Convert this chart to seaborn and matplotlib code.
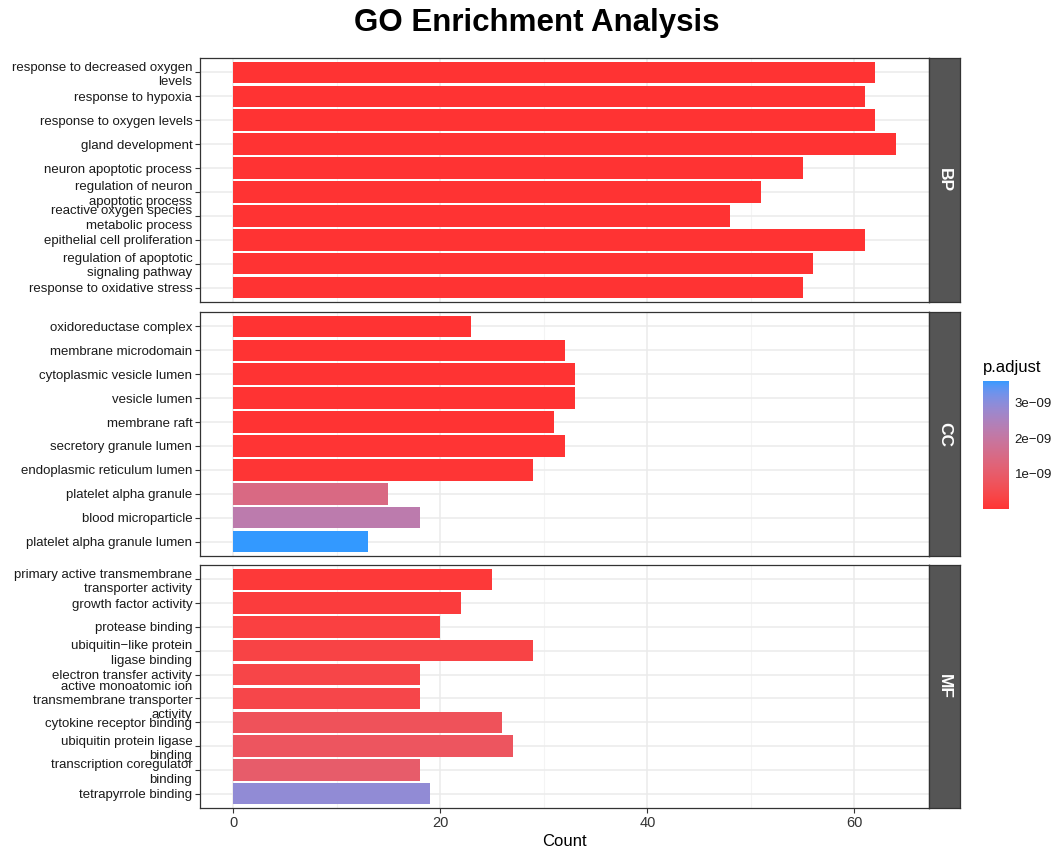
import numpy as np
import pandas as pd
import matplotlib
matplotlib.use("Agg")
import matplotlib.pyplot as plt
import seaborn as sns
from matplotlib.colors import ListedColormap, Normalize, to_rgb
from matplotlib.cm import ScalarMappable

# ---- enrichment results -------------------------------------------------
bp_terms = [
    "response to decreased oxygen\nlevels",
    "response to hypoxia",
    "response to oxygen levels",
    "gland development",
    "neuron apoptotic process",
    "regulation of neuron\napoptotic process",
    "reactive oxygen species\nmetabolic process",
    "epithelial cell proliferation",
    "regulation of apoptotic\nsignaling pathway",
    "response to oxidative stress",
]
bp_counts = [62, 61, 62, 64, 55, 51, 48, 61, 56, 55]
bp_padj = [2.1e-19, 2.1e-19, 4.8e-19, 6.5e-18, 1.2e-16, 3.4e-16, 5.1e-16, 6.0e-16, 9.8e-16, 1.4e-15]

cc_terms = [
    "oxidoreductase complex",
    "membrane microdomain",
    "cytoplasmic vesicle lumen",
    "vesicle lumen",
    "membrane raft",
    "secretory granule lumen",
    "endoplasmic reticulum lumen",
    "platelet alpha granule",
    "blood microparticle",
    "platelet alpha granule lumen",
]
cc_counts = [23, 32, 33, 33, 31, 32, 29, 15, 18, 13]
cc_padj = [1.2e-12, 4.5e-12, 6.1e-12, 6.9e-12, 1.1e-11, 1.8e-11, 3.6e-11, 1.45e-9, 2.2e-9, 3.62e-9]

mf_terms = [
    "primary active transmembrane\ntransporter activity",
    "growth factor activity",
    "protease binding",
    "ubiquitin\u2212like protein\nligase binding",
    "electron transfer activity",
    "active monoatomic ion\ntransmembrane transporter\nactivity",
    "cytokine receptor binding",
    "ubiquitin protein ligase\nbinding",
    "transcription coregulator\nbinding",
    "tetrapyrrole binding",
]
mf_counts = [25, 22, 20, 29, 18, 18, 26, 27, 18, 19]
mf_padj = [1.0e-10, 1.8e-10, 2.5e-10, 3.2e-10, 3.8e-10, 4.0e-10, 7.0e-10, 8.0e-10, 1.0e-9, 2.9e-9]

ontologies = ["BP", "CC", "MF"]
cbar_ticks = [1e-9, 2e-9, 3e-9]
cbar_labels = ["1e\u221209", "2e\u221209", "3e\u221209"]

df = pd.concat([
    pd.DataFrame({"ONTOLOGY": "BP", "Description": bp_terms, "Count": bp_counts, "p.adjust": bp_padj}),
    pd.DataFrame({"ONTOLOGY": "CC", "Description": cc_terms, "Count": cc_counts, "p.adjust": cc_padj}),
    pd.DataFrame({"ONTOLOGY": "MF", "Description": mf_terms, "Count": mf_counts, "p.adjust": mf_padj}),
], ignore_index=True)


# ---- red -> blue gradient interpolated in CIELAB ------------------------
def _srgb_to_lab(rgb):
    c = np.asarray(rgb, float)
    c = np.where(c <= 0.04045, c / 12.92, ((c + 0.055) / 1.055) ** 2.4)
    m = np.array([[0.4124, 0.3576, 0.1805],
                  [0.2126, 0.7152, 0.0722],
                  [0.0193, 0.1192, 0.9505]])
    xyz = m @ c / np.array([0.95047, 1.0, 1.08883])
    f = np.where(xyz > 0.008856, np.cbrt(xyz), 7.787 * xyz + 16 / 116)
    return np.array([116 * f[1] - 16, 500 * (f[0] - f[1]), 200 * (f[1] - f[2])])


def _lab_to_srgb(lab):
    L, a, b = lab
    fy = (L + 16) / 116
    fx = fy + a / 500
    fz = fy - b / 200
    f = np.array([fx, fy, fz])
    xyz = np.where(f ** 3 > 0.008856, f ** 3, (f - 16 / 116) / 7.787)
    xyz = xyz * np.array([0.95047, 1.0, 1.08883])
    m = np.array([[3.2406, -1.5372, -0.4986],
                  [-0.9689, 1.8758, 0.0415],
                  [0.0557, -0.2040, 1.0570]])
    c = m @ xyz
    c = np.where(c <= 0.0031308, 12.92 * c, 1.055 * np.clip(c, 0, None) ** (1 / 2.4) - 0.055)
    return np.clip(c, 0, 1)


low_lab = _srgb_to_lab(to_rgb("#FF3333"))
high_lab = _srgb_to_lab(to_rgb("#3399FF"))
cmap = ListedColormap([_lab_to_srgb(low_lab + t * (high_lab - low_lab)) for t in np.linspace(0, 1, 256)])
norm = Normalize(vmin=df["p.adjust"].min(), vmax=df["p.adjust"].max())

# ---- styling ------------------------------------------------------------
sns.set_style("white")
plt.rcParams["font.family"] = ["Liberation Sans", "DejaVu Sans"]
plt.rcParams["text.color"] = "black"

W, H = 1062, 852
fig = plt.figure(figsize=(W / 100, H / 100), dpi=100)


def px_axes(x0, y0, x1, y1):
    return fig.add_axes([x0 / W, 1 - y1 / H, (x1 - x0) / W, (y1 - y0) / H])


panel_rows = [(58, 302), (312, 556), (565, 808)]
px_left, px_right, strip_right = 200, 929, 960
grid_col = "#EBEBEB"
frame_col = "#333333"

for i, (ont, (ytop, ybot)) in enumerate(zip(ontologies, panel_rows)):
    ax = px_axes(px_left, ytop, px_right, ybot)
    sub = df[df["ONTOLOGY"] == ont]
    pal = {d: cmap(norm(p)) for d, p in zip(sub["Description"], sub["p.adjust"])}
    sns.barplot(data=sub, x="Count", y="Description", hue="Description", palette=pal,
                order=list(sub["Description"]), orient="h", width=0.9, saturation=1,
                dodge=False, legend=False, ax=ax, linewidth=0, zorder=3)
    ax.set_xlim(-3.2, 67.2)
    ax.set_ylim(9.6, -0.6)
    ax.set_xticks([0, 20, 40, 60])
    ax.set_xticks([10, 30, 50], minor=True)
    ax.set_axisbelow(True)
    ax.grid(True, which="major", axis="both", color=grid_col, linewidth=1.1, zorder=0)
    ax.grid(True, which="minor", axis="x", color="#F4F4F4", linewidth=0.8, zorder=0)
    for sp in ax.spines.values():
        sp.set_color(frame_col)
        sp.set_linewidth(0.9)
    ax.set_ylabel("")
    ax.tick_params(axis="y", which="major", length=3.5, width=0.8, color=frame_col,
                   labelsize=9.5, labelcolor="#1A1A1A", pad=2, left=True)
    for lab in ax.get_yticklabels():
        lab.set_linespacing(1.25)
    if i < 2:
        ax.set_xlabel("")
        ax.tick_params(axis="x", which="both", bottom=False, labelbottom=False)
    else:
        ax.tick_params(axis="x", which="major", length=3.5, width=0.8, color=frame_col,
                       labelsize=10.5, labelcolor="#333333", pad=2, bottom=True)
        ax.tick_params(axis="x", which="minor", bottom=False)
        ax.set_xlabel("Count", fontsize=12, labelpad=3, color="black")

    # facet strip on the right
    sx = px_axes(px_right, ytop, strip_right, ybot)
    sx.set_facecolor("#555555")
    sx.set_xticks([])
    sx.set_yticks([])
    for sp in sx.spines.values():
        sp.set_color(frame_col)
        sp.set_linewidth(0.9)
    sx.text(0.5, 0.5, ont, rotation=-90, color="white", fontsize=12.5, fontweight="bold",
            ha="center", va="center", transform=sx.transAxes)

# ---- colour bar legend --------------------------------------------------
cax = px_axes(983, 381, 1009, 509)
cb = fig.colorbar(ScalarMappable(norm=norm, cmap=cmap), cax=cax)
cb.outline.set_visible(False)
cb.set_ticks(cbar_ticks)
cb.set_ticklabels(cbar_labels)
cax.tick_params(axis="y", direction="in", length=5, width=0.8, color="white",
                labelsize=9.5, labelcolor="#1A1A1A", pad=4, left=True, right=True)
fig.text(983 / W, 1 - 372 / H, "p.adjust", fontsize=12, ha="left", va="baseline")

fig.text(537 / W, 1 - 31 / H, "GO Enrichment Analysis", fontsize=22.5, fontweight="bold",
         ha="center", va="baseline")

fig.savefig("out.png", dpi=100)
